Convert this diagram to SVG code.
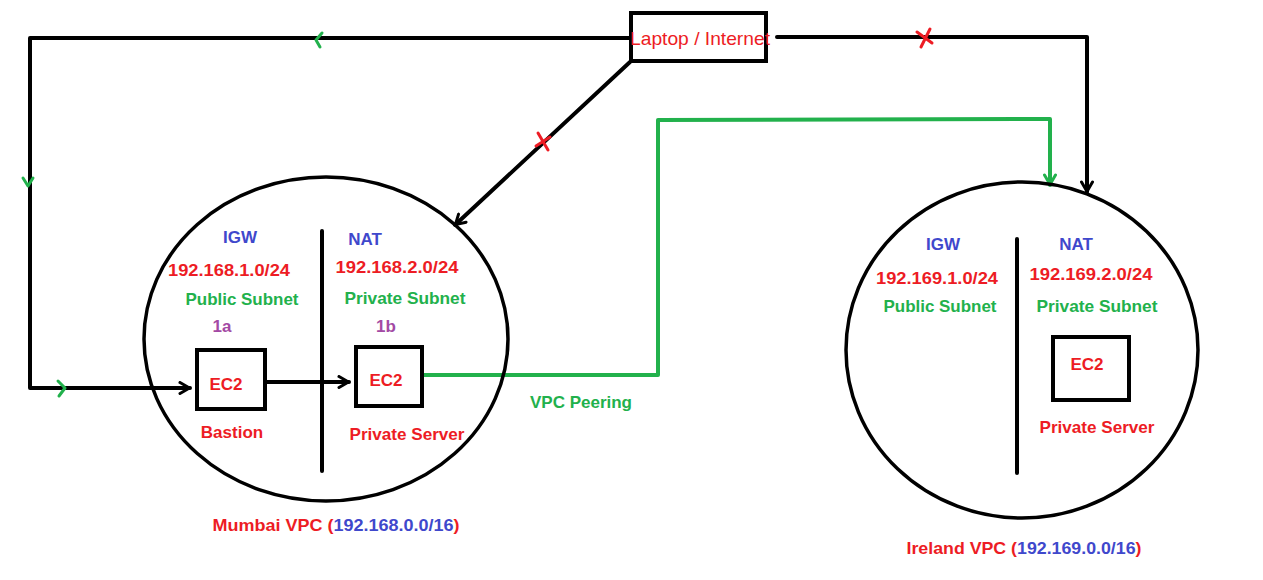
<svg xmlns="http://www.w3.org/2000/svg" width="1263" height="580" viewBox="0 0 1263 580">
<defs>
<marker id="ah" viewBox="0 0 14 14" refX="13" refY="7" markerWidth="14" markerHeight="14" markerUnits="userSpaceOnUse" orient="auto">
<path d="M3,1.5 L12.5,7 L3,12.5" fill="none" stroke="#000" stroke-width="3" stroke-linecap="round" stroke-linejoin="round"/>
</marker>
<marker id="ahg" viewBox="0 0 14 14" refX="13" refY="7" markerWidth="14" markerHeight="14" markerUnits="userSpaceOnUse" orient="auto">
<path d="M3,1.5 L12.5,7 L3,12.5" fill="none" stroke="#22b14c" stroke-width="3" stroke-linecap="round" stroke-linejoin="round"/>
</marker>
</defs>
<style>
.ln{fill:none;stroke:#000;stroke-width:4;stroke-linejoin:round;stroke-linecap:round}
.gl{fill:none;stroke:#22b14c;stroke-width:4;stroke-linejoin:round;stroke-linecap:round}
.box{fill:#fff;stroke:#000;stroke-width:4}
.vpc{fill:none;stroke:#000;stroke-width:3.5}
.t{font-family:"Liberation Sans",Arial,sans-serif;font-weight:bold;font-size:17px;text-anchor:middle}
.nw{font-weight:normal;font-size:19px}
.r{fill:#ed1c24}.g{fill:#22b14c}.b{fill:#3f48cc}.p{fill:#a349a4}
.mk{fill:none;stroke-width:3;stroke-linecap:round;stroke-linejoin:round}
</style>
<rect width="1263" height="580" fill="#fff"/>

<g id="connectors">
<path class="ln" d="M630,38 L30,38 L30,388 L190,388" marker-end="url(#ah)"/>
<path class="ln" d="M630,62 L455,225" marker-end="url(#ah)"/>
<path class="ln" d="M777,37 L1087,37 L1087,192" marker-end="url(#ah)"/>
<path class="ln" d="M267,382 L349,382" marker-end="url(#ah)"/>
<path class="gl" d="M424,375 L658,375 L658,120 L1050,119 L1050,185" marker-end="url(#ahg)"/>
<path class="mk" stroke="#22b14c" d="M322,33 L316,40 L320,47"/>
<path class="mk" stroke="#22b14c" d="M23,178 L28,186 L33,178"/>
<path class="mk" stroke="#22b14c" d="M58,381 L65,388 L59,396"/>
<path class="mk" stroke="#ed1c24" d="M538,133 L548,150 M536,146 L550,137"/>
<path class="mk" stroke="#ed1c24" d="M917,32 L932,43 M921,47 L930,29"/>
<text class="t g" x="581" y="408">VPC Peering</text>
</g>

<g id="laptop">
<rect class="box" x="631" y="13" width="135" height="48"/>
<text class="t r nw" x="700" y="45" textLength="140" lengthAdjust="spacingAndGlyphs">Laptop / Internet</text>
</g>

<g id="mumbai-vpc">
<ellipse class="vpc" cx="326" cy="339" rx="182" ry="162"/>
<line class="ln" x1="322" y1="231" x2="322" y2="471"/>
<text class="t b" x="240" y="243">IGW</text>
<text class="t r" x="229" y="276" textLength="122" lengthAdjust="spacingAndGlyphs">192.168.1.0/24</text>
<text class="t g" x="242" y="305" textLength="113" lengthAdjust="spacingAndGlyphs">Public Subnet</text>
<text class="t p" x="222" y="332">1a</text>
<text class="t b" x="365" y="245">NAT</text>
<text class="t r" x="397" y="273" textLength="123" lengthAdjust="spacingAndGlyphs">192.168.2.0/24</text>
<text class="t g" x="405" y="304" textLength="121" lengthAdjust="spacingAndGlyphs">Private Subnet</text>
<text class="t p" x="386" y="332">1b</text>
<text class="t r" x="336" y="531" textLength="247" lengthAdjust="spacingAndGlyphs"><tspan>Mumbai VPC (</tspan><tspan class="b">192.168.0.0/16</tspan><tspan>)</tspan></text>
</g>

<g id="bastion">
<rect class="box" x="197" y="350" width="68" height="59"/>
<text class="t r" x="226" y="390">EC2</text>
<text class="t r" x="232" y="438">Bastion</text>
</g>

<g id="mumbai-private">
<rect class="box" x="356" y="347" width="66" height="59"/>
<text class="t r" x="386" y="386">EC2</text>
<text class="t r" x="407" y="440" textLength="115" lengthAdjust="spacingAndGlyphs">Private Server</text>
</g>

<g id="ireland-vpc">
<ellipse class="vpc" cx="1022" cy="350" rx="176" ry="168"/>
<line class="ln" x1="1017" y1="239" x2="1017" y2="473"/>
<text class="t b" x="943" y="250">IGW</text>
<text class="t r" x="937" y="284" textLength="122" lengthAdjust="spacingAndGlyphs">192.169.1.0/24</text>
<text class="t g" x="940" y="312" textLength="113" lengthAdjust="spacingAndGlyphs">Public Subnet</text>
<text class="t b" x="1076" y="250">NAT</text>
<text class="t r" x="1091" y="280" textLength="123" lengthAdjust="spacingAndGlyphs">192.169.2.0/24</text>
<text class="t g" x="1097" y="312" textLength="121" lengthAdjust="spacingAndGlyphs">Private Subnet</text>
<text class="t r" x="1024" y="554" textLength="235" lengthAdjust="spacingAndGlyphs"><tspan>Ireland VPC (</tspan><tspan class="b">192.169.0.0/16</tspan><tspan>)</tspan></text>
</g>

<g id="ireland-private">
<rect class="box" x="1053" y="337" width="76" height="63"/>
<text class="t r" x="1087" y="370">EC2</text>
<text class="t r" x="1097" y="433" textLength="115" lengthAdjust="spacingAndGlyphs">Private Server</text>
</g>
</svg>
